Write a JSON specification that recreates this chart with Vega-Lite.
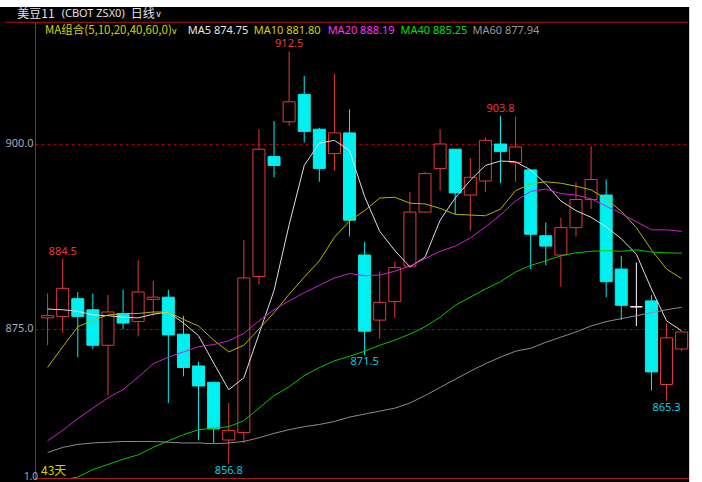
{
  "$schema": "https://vega.github.io/schema/vega-lite/v6.json",
  "width": 658,
  "height": 456,
  "autosize": {"type": "none"},
  "padding": {"left": 35, "top": 22, "right": 9, "bottom": 4},
  "background": "#000000",
  "config": {
    "view": {"stroke": null},
    "axisX": {"labels": false, "ticks": false, "grid": false, "domainColor": "#a81818", "domainWidth": 1},
    "axisY": {"ticks": false, "grid": true, "gridColor": "#a80000", "gridDash": [3, 3], "gridWidth": 1, "domainColor": "#b01818", "domainWidth": 1, "labelColor": "#a4acb4", "labelFont": "Noto Sans", "labelFontSize": 11, "labelPadding": 2}
  },
  "data": {"values": [{}]},
  "datasets": {
    "k": [
      {"idx":1,"open":876.5,"high":879.8,"low":872.8,"close":876.8,"ma5":877.7,"ma10":869.8,"ma20":859.9,"ma40":null,"ma60":858.3},
      {"idx":2,"open":876.7,"high":884.5,"low":874.5,"close":880.5,"ma5":877.6,"ma10":872.6,"ma20":861.3,"ma40":854.6,"ma60":859.0},
      {"idx":3,"open":879.1,"high":880.0,"low":871.2,"close":876.7,"ma5":877.4,"ma10":875.3,"ma20":862.9,"ma40":855.0,"ma60":859.4},
      {"idx":4,"open":877.6,"high":879.8,"low":872.3,"close":872.8,"ma5":876.9,"ma10":876.2,"ma20":864.3,"ma40":856.0,"ma60":859.6},
      {"idx":5,"open":872.8,"high":879.6,"low":866.0,"close":877.3,"ma5":876.8,"ma10":876.9,"ma20":865.7,"ma40":856.7,"ma60":859.7},
      {"idx":6,"open":877.1,"high":880.3,"low":875.0,"close":875.8,"ma5":876.6,"ma10":877.1,"ma20":866.8,"ma40":857.4,"ma60":859.8},
      {"idx":7,"open":876.0,"high":884.3,"low":874.0,"close":880.0,"ma5":876.5,"ma10":877.1,"ma20":868.5,"ma40":858.0,"ma60":859.8},
      {"idx":8,"open":879.0,"high":881.5,"low":876.8,"close":879.3,"ma5":877.0,"ma10":877.3,"ma20":870.3,"ma40":859.0,"ma60":859.8},
      {"idx":9,"open":879.3,"high":880.3,"low":865.0,"close":874.2,"ma5":877.3,"ma10":877.3,"ma20":871.2,"ma40":859.9,"ma60":859.7},
      {"idx":10,"open":874.3,"high":876.8,"low":868.6,"close":869.8,"ma5":875.8,"ma10":876.3,"ma20":871.9,"ma40":860.7,"ma60":859.6},
      {"idx":11,"open":870.0,"high":870.6,"low":860.0,"close":867.3,"ma5":874.1,"ma10":875.4,"ma20":872.6,"ma40":861.4,"ma60":859.6},
      {"idx":12,"open":867.8,"high":867.8,"low":859.5,"close":861.5,"ma5":870.4,"ma10":873.5,"ma20":872.9,"ma40":861.6,"ma60":859.5},
      {"idx":13,"open":860.0,"high":865.0,"low":856.8,"close":861.3,"ma5":866.8,"ma10":871.9,"ma20":873.4,"ma40":861.8,"ma60":859.6},
      {"idx":14,"open":861.0,"high":887.0,"low":859.6,"close":881.9,"ma5":868.4,"ma10":872.8,"ma20":874.4,"ma40":862.6,"ma60":859.8},
      {"idx":15,"open":882.1,"high":902.0,"low":881.0,"close":899.3,"ma5":874.3,"ma10":875.0,"ma20":876.1,"ma40":864.3,"ma60":860.3},
      {"idx":16,"open":898.3,"high":903.1,"low":895.5,"close":897.1,"ma5":880.2,"ma10":877.2,"ma20":877.6,"ma40":866.0,"ma60":860.9},
      {"idx":17,"open":903.0,"high":912.5,"low":902.5,"close":905.7,"ma5":889.1,"ma10":879.7,"ma20":878.8,"ma40":867.2,"ma60":861.4},
      {"idx":18,"open":906.7,"high":909.2,"low":900.2,"close":901.7,"ma5":897.1,"ma10":882.0,"ma20":879.9,"ma40":868.7,"ma60":861.8},
      {"idx":19,"open":902.0,"high":902.2,"low":894.9,"close":896.7,"ma5":900.1,"ma10":884.2,"ma20":880.9,"ma40":869.8,"ma60":862.1},
      {"idx":20,"open":898.7,"high":909.5,"low":896.4,"close":901.5,"ma5":900.5,"ma10":887.4,"ma20":881.9,"ma40":870.7,"ma60":862.5},
      {"idx":21,"open":901.5,"high":904.7,"low":887.5,"close":889.7,"ma5":899.1,"ma10":889.6,"ma20":882.5,"ma40":871.3,"ma60":863.1},
      {"idx":22,"open":885.0,"high":886.8,"low":871.5,"close":874.7,"ma5":892.9,"ma10":891.0,"ma20":882.2,"ma40":872.0,"ma60":863.5},
      {"idx":23,"open":876.2,"high":882.8,"low":873.7,"close":878.6,"ma5":888.2,"ma10":892.7,"ma20":882.3,"ma40":872.8,"ma60":863.9},
      {"idx":24,"open":878.7,"high":884.1,"low":876.5,"close":883.3,"ma5":885.6,"ma10":892.8,"ma20":882.8,"ma40":873.5,"ma60":864.3},
      {"idx":25,"open":883.5,"high":893.5,"low":883.2,"close":890.8,"ma5":883.4,"ma10":892.0,"ma20":883.5,"ma40":874.3,"ma60":865.0},
      {"idx":26,"open":890.8,"high":896.2,"low":890.7,"close":896.0,"ma5":884.7,"ma10":891.9,"ma20":884.5,"ma40":875.3,"ma60":866.0},
      {"idx":27,"open":896.7,"high":902.0,"low":893.7,"close":900.0,"ma5":889.7,"ma10":891.3,"ma20":885.5,"ma40":876.6,"ma60":867.1},
      {"idx":28,"open":899.3,"high":899.3,"low":890.5,"close":893.4,"ma5":892.7,"ma10":890.5,"ma20":886.2,"ma40":878.2,"ma60":868.2},
      {"idx":29,"open":893.1,"high":898.1,"low":888.3,"close":895.5,"ma5":895.1,"ma10":890.4,"ma20":887.3,"ma40":879.3,"ma60":869.3},
      {"idx":30,"open":895.0,"high":900.9,"low":893.5,"close":900.5,"ma5":897.1,"ma10":890.3,"ma20":888.8,"ma40":880.4,"ma60":870.3},
      {"idx":31,"open":900.0,"high":903.8,"low":894.7,"close":899.0,"ma5":897.7,"ma10":891.2,"ma20":890.4,"ma40":881.4,"ma60":871.2},
      {"idx":32,"open":897.5,"high":903.7,"low":894.9,"close":899.6,"ma5":897.6,"ma10":893.7,"ma20":892.3,"ma40":882.7,"ma60":872.0},
      {"idx":33,"open":896.5,"high":896.5,"low":883.1,"close":887.8,"ma5":896.5,"ma10":894.6,"ma20":893.6,"ma40":883.6,"ma60":872.4},
      {"idx":34,"open":887.6,"high":889.4,"low":883.6,"close":886.2,"ma5":894.6,"ma10":894.9,"ma20":893.9,"ma40":884.2,"ma60":873.2},
      {"idx":35,"open":885.0,"high":890.0,"low":880.7,"close":888.7,"ma5":892.3,"ma10":894.7,"ma20":893.3,"ma40":884.9,"ma60":873.9},
      {"idx":36,"open":888.7,"high":894.8,"low":887.5,"close":892.5,"ma5":891.0,"ma10":894.3,"ma20":893.1,"ma40":885.3,"ma60":874.6},
      {"idx":37,"open":892.5,"high":899.7,"low":891.2,"close":895.2,"ma5":890.1,"ma10":893.8,"ma20":892.6,"ma40":885.5,"ma60":875.4},
      {"idx":38,"open":893.1,"high":895.2,"low":879.3,"close":881.4,"ma5":888.8,"ma10":892.6,"ma20":891.6,"ma40":885.6,"ma60":876.0},
      {"idx":39,"open":883.1,"high":884.9,"low":876.2,"close":878.2,"ma5":887.2,"ma10":890.9,"ma20":890.6,"ma40":885.5,"ma60":876.4},
      {"idx":40,"open":878.0,"high":884.0,"low":875.4,"close":878.0,"ma5":885.1,"ma10":888.7,"ma20":889.5,"ma40":885.7,"ma60":876.8},
      {"idx":41,"open":878.8,"high":879.6,"low":866.7,"close":869.2,"ma5":880.4,"ma10":885.7,"ma20":888.4,"ma40":885.4,"ma60":877.2},
      {"idx":42,"open":867.5,"high":875.8,"low":865.3,"close":873.8,"ma5":876.1,"ma10":883.1,"ma20":888.4,"ma40":885.3,"ma60":877.6},
      {"idx":43,"open":872.3,"high":874.6,"low":872.0,"close":874.6,"ma5":874.75,"ma10":881.8,"ma20":888.19,"ma40":885.25,"ma60":877.94}
    ],
    "hl": [
      {"idx":2,"price":884.5,"kind":"high"},
      {"idx":17,"price":912.5,"kind":"high"},
      {"idx":31,"price":903.8,"kind":"high"},
      {"idx":22,"price":871.5,"kind":"low"},
      {"idx":13,"price":856.8,"kind":"low"},
      {"idx":42,"price":865.3,"kind":"low"}
    ]
  },
  "layer": [
    {
      "data": {"name": "k"},
      "mark": {"type": "rule", "strokeWidth": 1},
      "encoding": {
        "x": {"field": "idx", "type": "quantitative", "scale": {"domain": [0.498, 43.42], "nice": false, "zero": false}, "axis": {"title": null}},
        "y": {"field": "low", "type": "quantitative", "scale": {"domain": [854.865, 916.486], "nice": false, "zero": false}, "axis": {"title": null, "values": [875, 900], "format": ".1f"}},
        "y2": {"field": "high"},
        "color": {"condition": [{"test": "datum.close > datum.open", "value": "#e23a3a"}, {"test": "datum.close == datum.open", "value": "#ffffff"}], "value": "#00f0f0"}
      }
    },
    {
      "data": {"name": "k"},
      "mark": {"type": "bar", "size": 12, "strokeWidth": 1},
      "encoding": {
        "x": {"field": "idx", "type": "quantitative", "scale": {"domain": [0.498, 43.42], "nice": false, "zero": false}, "axis": {"title": null}},
        "y": {"field": "open", "type": "quantitative", "scale": {"domain": [854.865, 916.486], "nice": false, "zero": false}, "axis": {"title": null}},
        "y2": {"field": "close"},
        "fill": {"condition": [{"test": "datum.close > datum.open", "value": "#000000"}, {"test": "datum.close == datum.open", "value": "#ffffff"}], "value": "#00f0f0"},
        "stroke": {"condition": [{"test": "datum.close > datum.open", "value": "#e23a3a"}, {"test": "datum.close == datum.open", "value": "#ffffff"}], "value": "#00f0f0"}
      }
    },
    {
      "data": {"name": "k"},
      "transform": [{"fold": ["ma5", "ma10", "ma20", "ma40", "ma60"], "as": ["ma", "val"]}],
      "mark": {"type": "line", "strokeWidth": 1, "clip": true},
      "encoding": {
        "x": {"field": "idx", "type": "quantitative", "scale": {"domain": [0.498, 43.42], "nice": false, "zero": false}, "axis": {"title": null}},
        "y": {"field": "val", "type": "quantitative", "scale": {"domain": [854.865, 916.486], "nice": false, "zero": false}, "axis": {"title": null}},
        "color": {"field": "ma", "type": "nominal", "legend": null, "scale": {"domain": ["ma60", "ma40", "ma20", "ma10", "ma5"], "range": ["#8c8c8c", "#00c800", "#d020d0", "#b4b400", "#dcdcdc"]}}
      }
    },
    {
      "data": {"name": "hl"},
      "transform": [{"filter": "datum.kind == 'high'"}],
      "mark": {"type": "text", "font": "Noto Sans", "fontSize": 11, "color": "#e23a3a", "baseline": "middle", "dy": -7},
      "encoding": {
        "x": {"field": "idx", "type": "quantitative", "scale": {"domain": [0.498, 43.42], "nice": false, "zero": false}, "axis": {"title": null}},
        "y": {"field": "price", "type": "quantitative", "scale": {"domain": [854.865, 916.486], "nice": false, "zero": false}, "axis": {"title": null}},
        "text": {"field": "price", "type": "quantitative", "format": ".1f"}
      }
    },
    {
      "data": {"name": "hl"},
      "transform": [{"filter": "datum.kind == 'low'"}],
      "mark": {"type": "text", "font": "Noto Sans", "fontSize": 11, "color": "#10c8e0", "baseline": "middle", "dy": 7},
      "encoding": {
        "x": {"field": "idx", "type": "quantitative", "scale": {"domain": [0.498, 43.42], "nice": false, "zero": false}, "axis": {"title": null}},
        "y": {"field": "price", "type": "quantitative", "scale": {"domain": [854.865, 916.486], "nice": false, "zero": false}, "axis": {"title": null}},
        "text": {"field": "price", "type": "quantitative", "format": ".1f"}
      }
    },
    {
      "mark": {"type": "rect", "color": "#ffffff"},
      "encoding": {
        "x": {"datum": -2.2, "type": "quantitative", "scale": {"domain": [0.498, 43.42], "nice": false, "zero": false}, "axis": {"title": null}},
        "x2": {"datum": 44.6},
        "y": {"datum": 918.51, "type": "quantitative", "scale": {"domain": [854.865, 916.486], "nice": false, "zero": false}, "axis": {"title": null}},
        "y2": {"datum": 921.5}
      }
    },
    {
      "mark": {"type": "rect", "color": "#ffffff"},
      "encoding": {
        "x": {"datum": 43.498, "type": "quantitative", "scale": {"domain": [0.498, 43.42], "nice": false, "zero": false}, "axis": {"title": null}},
        "x2": {"datum": 44.6},
        "y": {"datum": 853.5, "type": "quantitative", "scale": {"domain": [854.865, 916.486], "nice": false, "zero": false}, "axis": {"title": null}},
        "y2": {"datum": 921.5}
      }
    },
    {
      "mark": {"type": "rule", "color": "#b41414", "strokeWidth": 1},
      "encoding": {
        "x": {"datum": -1.786, "type": "quantitative", "scale": {"domain": [0.498, 43.42], "nice": false, "zero": false}, "axis": {"title": null}},
        "x2": {"datum": 43.42},
        "y": {"datum": 916.45, "type": "quantitative", "scale": {"domain": [854.865, 916.486], "nice": false, "zero": false}, "axis": {"title": null}}
      }
    },
    {
      "mark": {"type": "text", "text": "美豆11", "align": "left", "baseline": "middle", "font": "Noto Sans CJK SC", "fontSize": 12, "color": "#e0e0e0"},
      "encoding": {
        "x": {"datum": -1.003, "type": "quantitative", "scale": {"domain": [0.498, 43.42], "nice": false, "zero": false}, "axis": {"title": null}},
        "y": {"datum": 917.57, "type": "quantitative", "scale": {"domain": [854.865, 916.486], "nice": false, "zero": false}, "axis": {"title": null}}
      }
    },
    {
      "mark": {"type": "text", "text": "(CBOT ZSX0)", "align": "left", "baseline": "middle", "font": "Noto Sans", "fontSize": 11, "color": "#e0e0e0"},
      "encoding": {
        "x": {"datum": 1.934, "type": "quantitative", "scale": {"domain": [0.498, 43.42], "nice": false, "zero": false}, "axis": {"title": null}},
        "y": {"datum": 917.57, "type": "quantitative", "scale": {"domain": [854.865, 916.486], "nice": false, "zero": false}, "axis": {"title": null}}
      }
    },
    {
      "mark": {"type": "text", "text": "日线", "align": "left", "baseline": "middle", "font": "Noto Sans CJK SC", "fontSize": 12, "color": "#e0e0e0"},
      "encoding": {
        "x": {"datum": 6.501, "type": "quantitative", "scale": {"domain": [0.498, 43.42], "nice": false, "zero": false}, "axis": {"title": null}},
        "y": {"datum": 917.57, "type": "quantitative", "scale": {"domain": [854.865, 916.486], "nice": false, "zero": false}, "axis": {"title": null}}
      }
    },
    {
      "mark": {"type": "text", "text": "∨", "align": "left", "baseline": "middle", "font": "DejaVu Sans", "fontSize": 9, "color": "#e0e0e0"},
      "encoding": {
        "x": {"datum": 8.133, "type": "quantitative", "scale": {"domain": [0.498, 43.42], "nice": false, "zero": false}, "axis": {"title": null}},
        "y": {"datum": 917.57, "type": "quantitative", "scale": {"domain": [854.865, 916.486], "nice": false, "zero": false}, "axis": {"title": null}}
      }
    },
    {
      "mark": {"type": "text", "text": "MA组合(5,10,20,40,60,0)", "align": "left", "baseline": "middle", "font": "Noto Sans CJK SC", "fontSize": 11.5, "color": "#d2d200"},
      "encoding": {
        "x": {"datum": 0.824, "type": "quantitative", "scale": {"domain": [0.498, 43.42], "nice": false, "zero": false}, "axis": {"title": null}},
        "y": {"datum": 915.27, "type": "quantitative", "scale": {"domain": [854.865, 916.486], "nice": false, "zero": false}, "axis": {"title": null}}
      }
    },
    {
      "mark": {"type": "text", "text": "∨", "align": "left", "baseline": "middle", "font": "DejaVu Sans", "fontSize": 9, "color": "#d2d200"},
      "encoding": {
        "x": {"datum": 9.176, "type": "quantitative", "scale": {"domain": [0.498, 43.42], "nice": false, "zero": false}, "axis": {"title": null}},
        "y": {"datum": 915.27, "type": "quantitative", "scale": {"domain": [854.865, 916.486], "nice": false, "zero": false}, "axis": {"title": null}}
      }
    },
    {
      "mark": {"type": "text", "text": "MA5 874.75", "align": "left", "baseline": "middle", "font": "Noto Sans", "fontSize": 11, "color": "#e6e6e6"},
      "encoding": {
        "x": {"datum": 10.285, "type": "quantitative", "scale": {"domain": [0.498, 43.42], "nice": false, "zero": false}, "axis": {"title": null}},
        "y": {"datum": 915.27, "type": "quantitative", "scale": {"domain": [854.865, 916.486], "nice": false, "zero": false}, "axis": {"title": null}}
      }
    },
    {
      "mark": {"type": "text", "text": "MA10 881.80", "align": "left", "baseline": "middle", "font": "Noto Sans", "fontSize": 11, "color": "#d2d200"},
      "encoding": {
        "x": {"datum": 14.657, "type": "quantitative", "scale": {"domain": [0.498, 43.42], "nice": false, "zero": false}, "axis": {"title": null}},
        "y": {"datum": 915.27, "type": "quantitative", "scale": {"domain": [854.865, 916.486], "nice": false, "zero": false}, "axis": {"title": null}}
      }
    },
    {
      "mark": {"type": "text", "text": "MA20 888.19", "align": "left", "baseline": "middle", "font": "Noto Sans", "fontSize": 11, "color": "#ff30ff"},
      "encoding": {
        "x": {"datum": 19.551, "type": "quantitative", "scale": {"domain": [0.498, 43.42], "nice": false, "zero": false}, "axis": {"title": null}},
        "y": {"datum": 915.27, "type": "quantitative", "scale": {"domain": [854.865, 916.486], "nice": false, "zero": false}, "axis": {"title": null}}
      }
    },
    {
      "mark": {"type": "text", "text": "MA40 885.25", "align": "left", "baseline": "middle", "font": "Noto Sans", "fontSize": 11, "color": "#00e000"},
      "encoding": {
        "x": {"datum": 24.379, "type": "quantitative", "scale": {"domain": [0.498, 43.42], "nice": false, "zero": false}, "axis": {"title": null}},
        "y": {"datum": 915.27, "type": "quantitative", "scale": {"domain": [854.865, 916.486], "nice": false, "zero": false}, "axis": {"title": null}}
      }
    },
    {
      "mark": {"type": "text", "text": "MA60 877.94", "align": "left", "baseline": "middle", "font": "Noto Sans", "fontSize": 11, "color": "#9a9a9a"},
      "encoding": {
        "x": {"datum": 29.142, "type": "quantitative", "scale": {"domain": [0.498, 43.42], "nice": false, "zero": false}, "axis": {"title": null}},
        "y": {"datum": 915.27, "type": "quantitative", "scale": {"domain": [854.865, 916.486], "nice": false, "zero": false}, "axis": {"title": null}}
      }
    },
    {
      "mark": {"type": "text", "text": "43天", "align": "left", "baseline": "middle", "font": "Noto Sans CJK SC", "fontSize": 12, "color": "#d2d200"},
      "encoding": {
        "x": {"datum": 0.563, "type": "quantitative", "scale": {"domain": [0.498, 43.42], "nice": false, "zero": false}, "axis": {"title": null}},
        "y": {"datum": 855.81, "type": "quantitative", "scale": {"domain": [854.865, 916.486], "nice": false, "zero": false}, "axis": {"title": null}}
      }
    },
    {
      "mark": {"type": "text", "text": "1.0", "align": "right", "baseline": "middle", "font": "Noto Sans", "fontSize": 10, "color": "#a4acb4"},
      "encoding": {
        "x": {"datum": 0.367, "type": "quantitative", "scale": {"domain": [0.498, 43.42], "nice": false, "zero": false}, "axis": {"title": null}},
        "y": {"datum": 854.95, "type": "quantitative", "scale": {"domain": [854.865, 916.486], "nice": false, "zero": false}, "axis": {"title": null}}
      }
    }
  ]
}
